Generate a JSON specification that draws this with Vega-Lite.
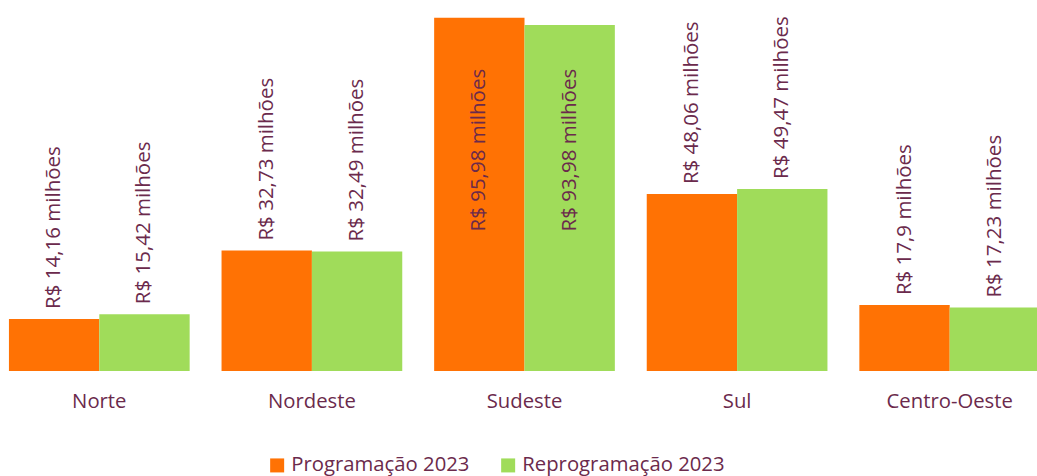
{
  "$schema": "https://vega.github.io/schema/vega-lite/v6.json",
  "width": 1037,
  "height": 371,
  "autosize": {"type": "none"},
  "padding": {"left": 0, "top": 0, "right": 0, "bottom": 105},
  "background": "white",
  "config": {
    "view": {"stroke": null},
    "font": "Open Sans",
    "text": {"font": "Open Sans"}
  },
  "data": {
    "values": [
      {"regiao": "Norte", "serie": "Programação 2023", "valor": 14.16, "label": "R$ 14,16 milhões"},
      {"regiao": "Norte", "serie": "Reprogramação 2023", "valor": 15.42, "label": "R$ 15,42 milhões"},
      {"regiao": "Nordeste", "serie": "Programação 2023", "valor": 32.73, "label": "R$ 32,73 milhões"},
      {"regiao": "Nordeste", "serie": "Reprogramação 2023", "valor": 32.49, "label": "R$ 32,49 milhões"},
      {"regiao": "Sudeste", "serie": "Programação 2023", "valor": 95.98, "label": "R$ 95,98 milhões"},
      {"regiao": "Sudeste", "serie": "Reprogramação 2023", "valor": 93.98, "label": "R$ 93,98 milhões"},
      {"regiao": "Sul", "serie": "Programação 2023", "valor": 48.06, "label": "R$ 48,06 milhões"},
      {"regiao": "Sul", "serie": "Reprogramação 2023", "valor": 49.47, "label": "R$ 49,47 milhões"},
      {"regiao": "Centro-Oeste", "serie": "Programação 2023", "valor": 17.9, "label": "R$ 17,9 milhões"},
      {"regiao": "Centro-Oeste", "serie": "Reprogramação 2023", "valor": 17.23, "label": "R$ 17,23 milhões"}
    ]
  },
  "encoding": {
    "x": {
      "field": "regiao",
      "type": "nominal",
      "sort": ["Norte", "Nordeste", "Sudeste", "Sul", "Centro-Oeste"],
      "scale": {"range": [-7, 1056], "paddingInner": 0.15, "paddingOuter": 0.075},
      "axis": {
        "title": null,
        "domain": false,
        "ticks": false,
        "labelAngle": 0,
        "labelFont": "Open Sans",
        "labelFontSize": 20.3,
        "labelColor": "#6B2A4C",
        "labelPadding": 20
      }
    },
    "xOffset": {
      "field": "serie",
      "type": "nominal",
      "sort": ["Programação 2023", "Reprogramação 2023"],
      "scale": {"paddingInner": 0, "paddingOuter": 0}
    },
    "y": {
      "field": "valor",
      "type": "quantitative",
      "scale": {"domain": [0, 100.8], "nice": false},
      "axis": null
    }
  },
  "layer": [
    {
      "mark": {"type": "bar"},
      "encoding": {
        "color": {
          "field": "serie",
          "type": "nominal",
          "sort": ["Programação 2023", "Reprogramação 2023"],
          "scale": {"range": ["#FF7204", "#A0DC5A"]},
          "legend": {
            "title": null,
            "orient": "none",
            "direction": "horizontal",
            "legendX": 267,
            "legendY": 455,
            "symbolType": "square",
            "symbolSize": 196,
            "symbolStrokeWidth": 0,
            "labelFont": "Open Sans",
            "labelFontSize": 20.3,
            "labelColor": "#6B2A4C",
            "labelLimit": 400,
            "columnPadding": 28,
            "symbolOpacity": 1
          }
        }
      }
    },
    {
      "transform": [{"filter": "datum.regiao !== 'Sudeste'"}],
      "mark": {
        "type": "text",
        "angle": 270,
        "align": "left",
        "baseline": "middle",
        "dx": 10,
        "font": "Open Sans",
        "fontSize": 20.5,
        "color": "#6B2A4C"
      },
      "encoding": {"text": {"field": "label"}}
    },
    {
      "transform": [{"filter": "datum.regiao === 'Sudeste'"}],
      "mark": {
        "type": "text",
        "angle": 270,
        "align": "center",
        "baseline": "middle",
        "font": "Open Sans",
        "fontSize": 20.5,
        "color": "#6B2A4C"
      },
      "encoding": {
        "y": {"datum": 60},
        "text": {"field": "label"}
      }
    }
  ]
}
